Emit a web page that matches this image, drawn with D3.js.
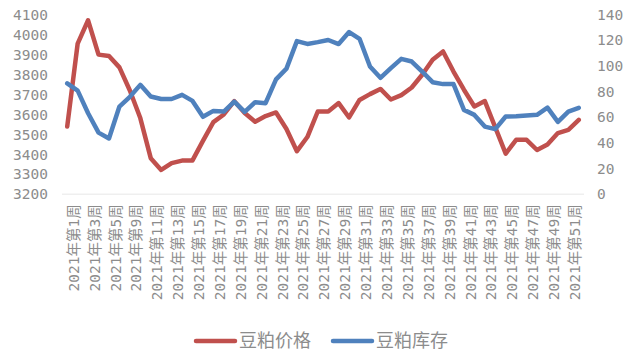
<!DOCTYPE html>
<html>
<head>
<meta charset="utf-8">
<script src="https://cdn.jsdelivr.net/npm/d3@7"></script>
<style>
  html, body { margin: 0; padding: 0; background: #fff; }
  svg { display: block; }
</style>
</head>
<body>
<div id="chart"></div>
<script>
// weeks on the x axis (week 6/7 missing around spring festival)
const weeks = [1, 2, 3, 4, 5, 8, 9, 10, 11, 12, 13, 14, 15, 16, 17, 18, 19, 20, 21, 22,
  23, 24, 25, 26, 27, 28, 29, 30, 31, 32, 33, 34, 35, 36, 37, 38, 39, 40, 41, 42,
  43, 44, 45, 46, 47, 48, 49, 50, 51, 52];
const categories = weeks.map(w => `2021年第${w}周`);

// 豆粕价格 (left axis)
const priceValues = [3540, 3955, 4072, 3900, 3893, 3836, 3720, 3582, 3381, 3322,
  3356, 3369, 3370, 3468, 3562, 3600, 3667, 3607, 3564, 3592,
  3610, 3527, 3416, 3487, 3615, 3615, 3657, 3585, 3673, 3702,
  3728, 3675, 3697, 3735, 3799, 3874, 3916, 3815, 3724, 3640,
  3667, 3535, 3404, 3473, 3473, 3422, 3450, 3507, 3523, 3573];

// 豆粕库存 (right axis)
const stockValues = [86.5, 80.8, 63.2, 48.1, 43.5, 68.4, 76, 85.3, 76.2, 74.3,
  74.3, 77.5, 72.8, 60.4, 65, 64.5, 72.3, 64.2, 71.8, 71,
  89.6, 98, 119.4, 117.2, 118.6, 120.3, 117.1, 126.5, 121.2, 99.6,
  90.8, 98.4, 105.6, 103.5, 95.7, 87.4, 85.9, 85.9, 65.8, 61.9,
  52.8, 50.8, 60.6, 60.9, 61.4, 62, 67.5, 56.5, 64.5, 67.4];

const leftTicks = [3200, 3300, 3400, 3500, 3600, 3700, 3800, 3900, 4000, 4100];
const rightTicks = [0, 20, 40, 60, 80, 100, 120, 140];

const seriesNames = ["豆粕价格", "豆粕库存"];
const seriesColors = ["#C0504D", "#4F81BD"];

const width = 640, height = 362;
const plot = { left: 62, right: 584, top: 14.7, bottom: 194.3 };
const textColor = "#8c8c8c";
const monoFont = "'DejaVu Sans Mono', 'Noto Sans CJK SC', monospace";

const svg = d3.select("#chart").append("svg")
  .attr("width", width)
  .attr("height", height);

const x = d3.scalePoint()
  .domain(categories)
  .range([plot.left, plot.right])
  .padding(0.5);

const yLeft = d3.scaleLinear()
  .domain([3200, 4100])
  .range([plot.bottom, plot.top]);

const yRight = d3.scaleLinear()
  .domain([0, 140])
  .range([plot.bottom, plot.top]);

// baseline
svg.append("line")
  .attr("x1", plot.left).attr("x2", plot.right)
  .attr("y1", yLeft(3200)).attr("y2", yLeft(3200))
  .attr("stroke", "#efefef")
  .attr("stroke-width", 1.5);

// left axis
const leftAxis = svg.append("g")
  .attr("transform", `translate(48,0)`)
  .call(d3.axisLeft(yLeft).tickValues(leftTicks).tickFormat(d3.format("d")).tickSize(0).tickPadding(0));
leftAxis.select(".domain").remove();
leftAxis.selectAll("text")
  .attr("fill", textColor)
  .style("font-family", monoFont)
  .style("font-size", "14.5px");

// right axis
const rightAxis = svg.append("g")
  .attr("transform", `translate(597,0)`)
  .call(d3.axisRight(yRight).tickValues(rightTicks).tickFormat(d3.format("d")).tickSize(0).tickPadding(0));
rightAxis.select(".domain").remove();
rightAxis.selectAll("text")
  .attr("fill", textColor)
  .style("font-family", monoFont)
  .style("font-size", "14.5px");

// x axis, every second label, rotated
const xAxis = svg.append("g")
  .attr("transform", `translate(0,${plot.bottom})`)
  .call(d3.axisBottom(x)
    .tickValues(categories.filter((d, i) => i % 2 === 0))
    .tickSize(0));
xAxis.select(".domain").remove();
xAxis.selectAll("text")
  .attr("fill", textColor)
  .style("font-family", monoFont)
  .style("font-size", "14.5px")
  .attr("transform", "rotate(-90)")
  .attr("text-anchor", "end")
  .attr("x", -10)
  .attr("y", 6)
  .attr("dy", "0.35em");

// lines
const priceLine = d3.line()
  .x((d, i) => x(categories[i]))
  .y(d => yLeft(d));

const stockLine = d3.line()
  .x((d, i) => x(categories[i]))
  .y(d => yRight(d));

svg.append("path")
  .datum(priceValues)
  .attr("d", priceLine)
  .attr("fill", "none")
  .attr("stroke", seriesColors[0])
  .attr("stroke-width", 4.5)
  .attr("stroke-linejoin", "round")
  .attr("stroke-linecap", "round");

svg.append("path")
  .datum(stockValues)
  .attr("d", stockLine)
  .attr("fill", "none")
  .attr("stroke", seriesColors[1])
  .attr("stroke-width", 4.5)
  .attr("stroke-linejoin", "round")
  .attr("stroke-linecap", "round");

// legend
const legendX = [196, 333];
const legend = svg.append("g");
seriesNames.forEach((name, i) => {
  legend.append("line")
    .attr("x1", legendX[i]).attr("x2", legendX[i] + 39)
    .attr("y1", 341).attr("y2", 341)
    .attr("stroke", seriesColors[i])
    .attr("stroke-width", 4.5)
    .attr("stroke-linecap", "round");
  legend.append("text")
    .attr("x", legendX[i] + 43)
    .attr("y", 341)
    .attr("dy", "0.35em")
    .attr("fill", textColor)
    .style("font-family", "'Noto Sans CJK SC', sans-serif")
    .style("font-size", "18px")
    .text(name);
});
</script>
</body>
</html>
